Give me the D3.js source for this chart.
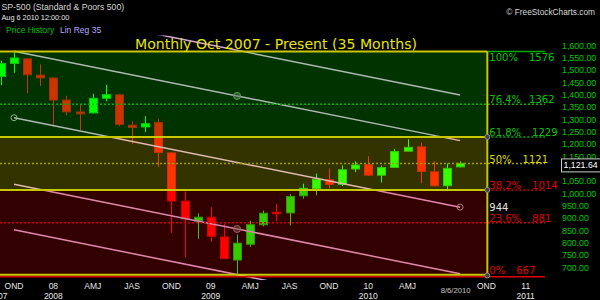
<!DOCTYPE html>
<html><head><meta charset="utf-8">
<script src="https://cdn.jsdelivr.net/npm/d3@7"></script>
<style>html,body{margin:0;padding:0;background:#000;}svg{display:block}</style>
</head><body><svg id="c" width="600" height="300"></svg>
<script>
// ---------- data ----------
const months = ["2007-09","2007-10","2007-11","2007-12","2008-01","2008-02","2008-03","2008-04","2008-05","2008-06","2008-07","2008-08","2008-09","2008-10","2008-11","2008-12","2009-01","2009-02","2009-03","2009-04","2009-05","2009-06","2009-07","2009-08","2009-09","2009-10","2009-11","2009-12","2010-01","2010-02","2010-03","2010-04","2010-05","2010-06","2010-07","2010-08"];
const openV  = [1473.99,1527.29,1545.79,1479.63,1467.97,1378.60,1330.45,1326.41,1385.97,1399.62,1276.69,1269.42,1287.83,1164.17,968.67,888.61,902.99,823.09,729.57,793.59,872.74,923.26,920.82,990.22,1019.52,1054.91,1036.18,1098.89,1116.56,1073.89,1105.36,1171.23,1188.58,1087.30,1031.10,1107.53];
const highV  = [1538.74,1576.09,1545.79,1523.57,1471.77,1396.02,1359.68,1404.00,1440.24,1404.05,1292.17,1313.15,1303.04,1167.03,1007.51,918.85,943.85,877.86,832.98,888.70,930.17,956.23,996.68,1039.47,1080.15,1101.36,1113.69,1130.38,1150.45,1112.42,1180.69,1219.80,1205.13,1131.23,1120.95,1128.75];
const lowV   = [1439.29,1489.56,1406.10,1435.65,1270.05,1316.75,1256.98,1324.35,1373.07,1272.00,1200.44,1248.64,1106.42,839.80,741.02,815.69,804.30,734.52,666.79,783.32,866.10,888.86,869.32,978.51,991.97,1020.18,1029.38,1085.89,1071.59,1044.50,1105.36,1170.69,1040.78,1028.33,1010.91,1105.10];
const closeV = [1526.75,1549.38,1481.14,1468.36,1378.55,1330.63,1322.70,1385.59,1400.38,1280.00,1267.38,1282.83,1166.36,968.75,896.24,903.25,825.88,735.09,797.87,872.81,919.14,919.32,987.48,1020.62,1057.08,1036.19,1095.63,1115.10,1073.87,1104.49,1169.43,1186.69,1089.41,1030.71,1101.60,1121.64];

// Linear regression channel (35 months)
const regMonths = ["2007-10","2010-08"];
const regValues = [1307, 944];
const regDevs = [455, 270, 0, -270, -455];

// Fibonacci retracement
const fibPct = ["100%","76.4%","61.8%","50%","38.2%","23.6%","0%"];
const fibVal = [1576,1362,1229,1121,1014,881,667];
const fibEndMonth = "2010-10";

// Axes
const yTicks = [700,750,800,850,900,950,1000,1050,1100,1150,1200,1250,1300,1350,1400,1450,1500,1550,1600];
const qLabels = ["OND","08","AMJ","JAS","OND","09","AMJ","JAS","OND","10","AMJ","OND","11"];
const qMonths = ["2007-10","2008-01","2008-04","2008-07","2008-10","2009-01","2009-04","2009-07","2009-10","2010-01","2010-04","2010-10","2011-01"];
const yearLabels = ["2007","2008","2009","2010","2011"];
const yearMonths = ["2007-01","2008-01","2009-01","2010-01","2011-01"];
const lastPrice = 1121.64;
const lastDate = "8/6/2010";

// ---------- scales ----------
const mIdx = s => { const [yy, mm] = s.split("-").map(Number); return (yy - 2007) * 12 + (mm - 1) - 9; };
const x = d3.scaleLinear().domain([0, 34]).range([14, 460.1]);
const y = d3.scaleLinear().domain([700, 1600]).range([267.3, 45.5]);

const svg = d3.select("#c");
svg.append("rect").attr("width", 600).attr("height", 300).attr("fill", "#000");

const defs = svg.append("defs");
defs.append("clipPath").attr("id", "plot").append("rect").attr("x", 0).attr("y", 35.5).attr("width", 550).attr("height", 244.5);
defs.append("clipPath").attr("id", "lab").append("rect").attr("x", 0).attr("y", 0).attr("width", 558).attr("height", 300);

const plot = svg.append("g").attr("clip-path", "url(#plot)");

// ---------- candles ----------
const candles = months.map((m, i) => ({ i: mIdx(m), o: openV[i], h: highV[i], l: lowV[i], c: closeV[i] }));
const cg = plot.append("g");
candles.forEach(d => {
  const cx = Math.round(x(d.i)) + 0.5;
  const up = d.c >= d.o;
  const col = up ? "#00ff00" : "#ff0000";
  const stroke = up ? "#00c000" : "#c00000";
  cg.append("line").attr("x1", cx).attr("x2", cx).attr("y1", y(d.h)).attr("y2", y(d.l)).attr("stroke", col).attr("stroke-width", 1);
  const top = y(Math.max(d.o, d.c)), bot = y(Math.min(d.o, d.c));
  cg.append("rect").attr("x", cx - 4.5 + 0.5).attr("y", top).attr("width", 8).attr("height", Math.max(1.5, bot - top))
    .attr("fill", col).attr("stroke", stroke).attr("stroke-width", 1);
});

// ---------- regression channel ----------
const r0 = mIdx(regMonths[0]), r1 = mIdx(regMonths[1]);
const rg = plot.append("g");
regDevs.forEach(dv => {
  rg.append("line").attr("x1", x(r0)).attr("x2", x(r1)).attr("y1", y(regValues[0] + dv)).attr("y2", y(regValues[1] + dv))
    .attr("stroke", "#d8a8dc").attr("stroke-width", 1.5);
});
[[r0, regValues[0]], [r1, regValues[1]]].forEach(p => {
  rg.append("circle").attr("cx", x(p[0])).attr("cy", y(p[1])).attr("r", 3).attr("fill", "none").attr("stroke", "#a0a0a0").attr("stroke-width", 1);
});
const rm = (r0 + r1) / 2, vm = (regValues[0] + regValues[1]) / 2;
[regDevs[1], regDevs[3]].forEach(dv => {
  rg.append("circle").attr("cx", x(rm)).attr("cy", y(vm + dv)).attr("r", 3.5).attr("fill", "#606060").attr("fill-opacity", 0.5).attr("stroke", "#808080").attr("stroke-width", 1);
});

// ---------- fib zones (translucent overlays) ----------
const zoneRight = x(mIdx(fibEndMonth)) + 1;
const zoneCols = ["#00ff00", "#ffff00", "#ff0000"];
[[0, 2], [2, 4], [4, 6]].forEach((z, k) => {
  svg.append("rect").attr("x", 0).attr("y", y(fibVal[z[0]])).attr("width", zoneRight)
    .attr("height", y(fibVal[z[1]]) - y(fibVal[z[0]])).attr("fill", zoneCols[k]).attr("fill-opacity", 0.2);
});

// ---------- fib lines ----------
const fg = svg.append("g");
const fibRight = 545;
const lineSpec = [
  { k: 0, x0: zoneRight, col: "#00b000", dash: null },
  { k: 1, x0: 0, col: "#00b000", dash: "2,2" },
  { k: 2, x0: zoneRight, col: "#00b000", dash: "2,2" },
  { k: 3, x0: 0, col: "#9c9c00", dash: "2,2" },
  { k: 4, x0: zoneRight, col: "#d00000", dash: "2,2" },
  { k: 5, x0: 0, col: "#d00000", dash: "2,2" },
  { k: 6, x0: 0, col: "#e00000", dash: null, off: 1.2 }
];
lineSpec.forEach(s => {
  const yy = y(fibVal[s.k]) + (s.off || 0);
  fg.append("line").attr("x1", s.x0).attr("x2", fibRight).attr("y1", yy).attr("y2", yy)
    .attr("stroke", s.col).attr("stroke-width", 1.5).attr("stroke-dasharray", s.dash);
});
[0, 2, 4, 6].forEach(k => {
  fg.append("line").attr("x1", 0).attr("x2", zoneRight).attr("y1", y(fibVal[k]) - (k === 6 ? 0.6 : 0)).attr("y2", y(fibVal[k]) - (k === 6 ? 0.6 : 0))
    .attr("stroke", "#c8c800").attr("stroke-width", 2);
});
fg.append("line").attr("x1", zoneRight).attr("x2", zoneRight).attr("y1", y(fibVal[0])).attr("y2", y(fibVal[6]))
  .attr("stroke", "#c8c800").attr("stroke-width", 2);
[2, 4, 6].forEach(k => {
  fg.append("circle").attr("cx", zoneRight).attr("cy", y(fibVal[k])).attr("r", 2.5).attr("fill", "#404040").attr("stroke", "#909090").attr("stroke-width", 1);
});

// fib labels
const lg = svg.append("g").attr("clip-path", "url(#lab)");
const fibLabCol = ["#00c800", "#00c800", "#00c800", "#dede00", "#e00000", "#e00000", "#e00000"];
fibPct.forEach((p, k) => {
  const base = k === 0 ? y(fibVal[k]) + 9.8 : y(fibVal[k]) - 1;
  const t = lg.append("text").attr("x", zoneRight + 2).attr("y", base)
    .attr("font-family", "DejaVu Sans, Verdana, sans-serif").attr("font-size", 10).attr("fill", fibLabCol[k]);
  t.append("tspan").text(p);
  t.append("tspan").attr("dx", k === 1 ? 8 : 11).text(fibVal[k]);
});
lg.append("text").attr("x", zoneRight + 2).attr("y", y(regValues[1]) + 3.8)
  .attr("font-family", "DejaVu Sans, Verdana, sans-serif").attr("font-size", 10).attr("fill", "#e4e4e4")
  .text(Math.round(regValues[1]));

// ---------- y axis labels ----------
const fmt = d3.format(",.2f");
const ya = svg.append("g");
yTicks.forEach(v => {
  ya.append("text").attr("x", 562).attr("y", y(v) + 3.2).attr("font-family", "Liberation Sans, Arial, sans-serif")
    .attr("font-size", 8.8).attr("fill", "#00c800").text(fmt(v));
});
// price box
const py = y(lastPrice);
ya.append("rect").attr("x", 561.5).attr("y", py - 4.5).attr("width", 40).attr("height", 13).attr("fill", "#000").attr("stroke", "#c8c8c8").attr("stroke-width", 1);
ya.append("text").attr("x", 563.5).attr("y", py + 5).attr("font-family", "Liberation Sans, Arial, sans-serif")
  .attr("font-size", 8.8).attr("fill", "#ffffff").text(fmt(lastPrice));

// ---------- x axis labels ----------
const xa = svg.append("g").attr("font-family", "Liberation Sans, Arial, sans-serif").attr("font-size", 8.5).attr("fill", "#e6e6e6");
qLabels.forEach((l, k) => {
  xa.append("text").attr("x", x(mIdx(qMonths[k]))).attr("y", 289).attr("text-anchor", "middle").text(l);
});
yearLabels.forEach((l, k) => {
  const px = x(mIdx(yearMonths[k]));
  if (px < 0) {
    xa.append("text").attr("x", x(mIdx(months[0])) + 6.5).attr("y", 298.5).attr("text-anchor", "end").text(l);
  } else {
    xa.append("text").attr("x", px).attr("y", 298.5).attr("text-anchor", "middle").text(l);
  }
});
{
  const [mm, dd, yy] = lastDate.split("/").map(Number);
  const pos = mIdx(yy + "-" + String(mm).padStart(2, "0")) - 0.5 + (dd - 1) / 31;
  xa.append("text").attr("x", x(pos)).attr("y", 293).attr("text-anchor", "middle").attr("font-size", 7.7).attr("fill", "#c8c8c8").text(lastDate);
}

// ---------- title & header ----------
svg.append("text").attr("x", 276).attr("y", 49.3).attr("text-anchor", "middle")
  .attr("font-family", "DejaVu Sans, Verdana, sans-serif").attr("font-size", 14.1).attr("fill", "#e6e600")
  .text("Monthly Oct 2007 - Present (35 Months)");
const hf = "Liberation Sans, Arial, sans-serif";
svg.append("text").attr("x", 1.5).attr("y", 10).attr("font-family", hf).attr("font-size", 8.7).attr("fill", "#d4d4d4").text("SP-500 (Standard & Poors 500)");
svg.append("text").attr("x", 1.5).attr("y", 20).attr("font-family", hf).attr("font-size", 7.3).attr("fill", "#e8e8e8").text("Aug 6 2010 12:00:00");
svg.append("text").attr("x", 6).attr("y", 33).attr("font-family", hf).attr("font-size", 8.5).attr("fill", "#00c000").text("Price History");
svg.append("text").attr("x", 60).attr("y", 33).attr("font-family", hf).attr("font-size", 8.5).attr("fill", "#b8a8ff").text("Lin Reg 35");
svg.append("text").attr("x", 595).attr("y", 15).attr("text-anchor", "end").attr("font-family", hf).attr("font-size", 8.3).attr("fill", "#d8d8d8").text("© FreeStockCharts.com");
</script>
</body></html>
